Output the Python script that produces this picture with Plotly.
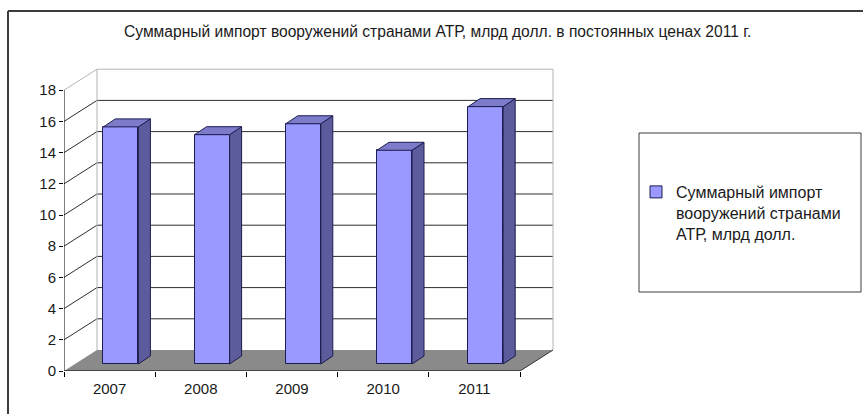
import plotly.graph_objects as go

# ---- data ----
years = ["2007", "2008", "2009", "2010", "2011"]
values = [15.2, 14.7, 15.4, 13.7, 16.5]
y_ticks = [0, 2, 4, 6, 8, 10, 12, 14, 16, 18]
title_text = "Суммарный импорт вооружений странами АТР, млрд долл. в постоянных ценах 2011 г."
series_name = "Суммарный импорт<br>вооружений странами<br>АТР, млрд долл."

# ---- geometry (pixels) ----
W, H = 863, 414
PL, PR, PT, PB = 64, 560, 60, 371
CAT_PX = 91.2
UNIT_PX = 15.6
XR = [-0.5, -0.5 + (PR - PL) / CAT_PX]
YR = [0, (PB - PT) / UNIT_PX]
DX = 33 / CAT_PX          # depth offset (x, data units)
DY = 21 / UNIT_PX         # depth offset (y, data units)
BAR_OFF = 11.3 / CAT_PX   # bar front plane shift
BAR_BASE = 7 / UNIT_PX
BAR_W = 35 / CAT_PX
BDX = 12 / CAT_PX
BDY = 8 / UNIT_PX
YMAX = y_ticks[-1]
N = len(years)

FONT = "Liberation Sans, Arial, sans-serif"
FRONT = "#9999FF"
SIDE = "#5C5C9C"
TOP = "#7C7CCB"
EDGE = "#1c1c50"


def px_x(px):
    return (px - PL) / (PR - PL)


def px_y(py):
    return (PB - py) / (PB - PT)


xs = [i + BAR_OFF for i in range(N)]

fig = go.Figure()
fig.add_trace(go.Bar(
    x=xs, y=values, base=BAR_BASE, width=BAR_W,
    marker=dict(color=FRONT, line=dict(color=EDGE, width=1)),
    name=series_name, showlegend=True, hoverinfo="skip",
))

shapes = []
# gridlines: side wall diagonal + back wall horizontal
for v in y_ticks[1:]:
    col = "#b4b4b4" if v == YMAX else "#2e2e2e"
    shapes.append(dict(
        type="path", layer="below",
        path=f"M {-0.5},{v} L {-0.5 + DX},{v + DY} L {N - 0.5 + DX},{v + DY}",
        line=dict(color=col, width=1)))
# back wall vertical edges
for xx in (-0.5 + DX, N - 0.5 + DX):
    shapes.append(dict(type="line", layer="below", x0=xx, x1=xx, y0=DY, y1=YMAX + DY,
                       line=dict(color="#b4b4b4", width=1)))
# floor
shapes.append(dict(
    type="path", layer="below",
    path=f"M -0.5,0 L {N - 0.5},0 L {N - 0.5 + DX},{DY} L {-0.5 + DX},{DY} Z",
    fillcolor="#8a8a8a", line=dict(width=0)))
shapes.append(dict(type="line", layer="below", x0=N - 0.5, y0=0, x1=N - 0.5 + DX, y1=DY,
                   line=dict(color="#303030", width=1)))
# front axes
shapes.append(dict(type="line", layer="above", x0=-0.5, y0=0, x1=-0.5, y1=YMAX,
                   line=dict(color="black", width=1)))
shapes.append(dict(type="line", layer="above", x0=-0.5, y0=0, x1=N - 0.5, y1=0,
                   line=dict(color="black", width=1)))
# bar side and top faces
for x, v in zip(xs, values):
    x0, x1 = x - BAR_W / 2, x + BAR_W / 2
    yb, yt = BAR_BASE, BAR_BASE + v
    shapes.append(dict(
        type="path", layer="above",
        path=f"M {x1},{yb} L {x1},{yt} L {x1 + BDX},{yt + BDY} L {x1 + BDX},{yb + BDY} Z",
        fillcolor=SIDE, line=dict(color=EDGE, width=1)))
    shapes.append(dict(
        type="path", layer="above",
        path=f"M {x0},{yt} L {x1},{yt} L {x1 + BDX},{yt + BDY} L {x0 + BDX},{yt + BDY} Z",
        fillcolor=TOP, line=dict(color=EDGE, width=1)))
# outer chart border (top and left visible)
shapes.append(dict(type="line", xref="paper", yref="paper",
                   x0=px_x(8), y0=px_y(11), x1=px_x(870), y1=px_y(11),
                   line=dict(color="#3c3c3c", width=2)))
shapes.append(dict(type="line", xref="paper", yref="paper",
                   x0=px_x(8), y0=px_y(11), x1=px_x(8), y1=px_y(420),
                   line=dict(color="#3c3c3c", width=2)))
# legend box
shapes.append(dict(type="rect", xref="paper", yref="paper",
                   x0=px_x(639), y0=px_y(292), x1=px_x(861), y1=px_y(133),
                   line=dict(color="#3c3c3c", width=1), fillcolor="rgba(0,0,0,0)"))

fig.update_layout(
    width=W, height=H,
    margin=dict(l=PL, r=W - PR, t=PT, b=H - PB, pad=0),
    paper_bgcolor="white", plot_bgcolor="white",
    font=dict(family=FONT, color="black", size=15),
    xaxis=dict(range=XR, tickvals=list(range(N)), ticktext=years, ticks="",
               showgrid=False, zeroline=False, showline=False, ticklabelstandoff=7,
               tickfont=dict(size=15, color="#1a1a1a"),
               minor=dict(tickvals=[i - 0.5 for i in range(N + 1)], ticks="outside",
                          ticklen=5, tickcolor="black", tickwidth=1, showgrid=False)),
    yaxis=dict(range=YR, tickvals=y_ticks, ticks="outside", ticklen=4, tickcolor="black",
               showgrid=False, zeroline=False, showline=False,
               tickfont=dict(size=15, color="#1a1a1a")),
    shapes=shapes,
    showlegend=True,
    legend=dict(x=px_x(636), y=px_y(175), xanchor="left", yanchor="top",
                bgcolor="rgba(0,0,0,0)", borderwidth=0, valign="top",
                font=dict(size=16, color="#1a1a1a", family=FONT)),
    annotations=[dict(text=title_text, xref="paper", yref="paper",
                      x=px_x(437), y=px_y(31), xanchor="center", yanchor="middle",
                      showarrow=False, font=dict(size=15.6, color="#1a1a1a", family=FONT))],
    bargap=0,
)

fig.write_html("out.html")
